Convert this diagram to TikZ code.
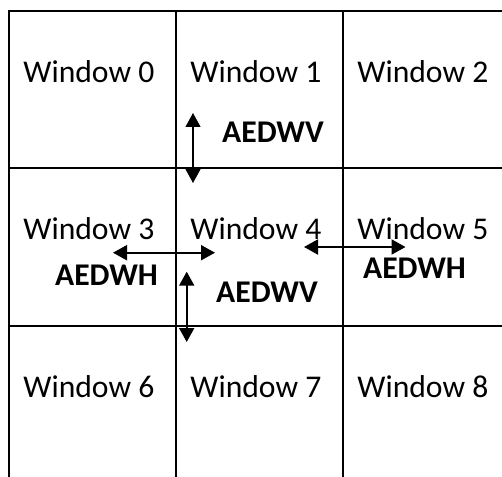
\documentclass[tikz,border=0pt]{standalone}
\usepackage{fontspec}
\setmainfont{Carlito}
\usetikzlibrary{arrows.meta,positioning,calc}

\tikzset{
  cell/.style={minimum width=3.34cm,minimum height=3.15cm,inner sep=0pt,outer sep=0pt},
  rule/.style={line width=1.15pt},
  wintext/.style={anchor=base west,inner sep=0pt,font=\fontsize{18}{21}\selectfont},
  tag/.style={anchor=base,inner sep=0pt,font=\fontsize{18}{21}\selectfont\bfseries},
  bothway/.style={{Triangle[length=2.8mm,width=3mm]}-{Triangle[length=2.8mm,width=3mm]}},
}

\begin{document}
\begin{tikzpicture}[x=0.02cm,y=-0.02cm]
  \clip (0,0) rectangle (502,476);
  % the 3x3 windows
  \foreach \i in {0,...,8}{
    \pgfmathtruncatemacro\cx{mod(\i,3)}
    \pgfmathtruncatemacro\cy{div(\i,3)}
    \node[cell] (c\i) at ({92.5+167*\cx},{89.75+157.5*\cy}) {};
    \node[wintext] (w\i) at ($(c\i.north west)+(14,71)$) {Window \i};
  }
  % grid lines
  \draw[rule] (c6.south west) -- (c0.north west) -- (c2.north east);
  \draw[rule] (c0.north east) -- (c6.south east);
  \draw[rule] (c1.north east) -- (c7.south east);
  \draw[rule] (c0.south west) -- (c2.south east);
  \draw[rule] (c3.south west) -- (c5.south east);
  % arrow ends
  \coordinate (v1top) at (193,113);
  \coordinate (v1bot) at (193,183);
  \coordinate (h34l) at (113,252.7);
  \coordinate (h34r) at (215,252.7);
  \coordinate (v4top) at (186.7,271.7);
  \coordinate (v4bot) at (186.7,342);
  \coordinate (h45l) at (304,247);
  \coordinate (h45r) at (405.5,247);
  \draw[bothway,line width=0.6pt] (v1top) -- (v1bot);
  \draw[bothway,line width=1.1pt] (h34l) -- (h34r);
  \draw[bothway,line width=1.1pt] (v4top) -- (v4bot);
  \draw[bothway,line width=1.1pt] (h45l) -- (h45r);
  % labels
  \node[tag] (t14) at (273,142) {AEDWV};
  \node[tag] (t34) at (106.5,285) {AEDWH};
  \node[tag] (t47) at (267,302.7) {AEDWV};
  \node[tag] (t45) at (414.5,278.7) {AEDWH};
\end{tikzpicture}
\end{document}
